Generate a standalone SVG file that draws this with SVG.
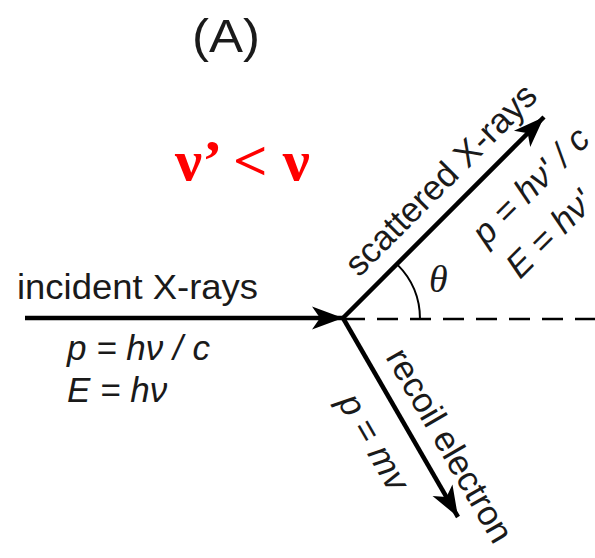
<svg xmlns="http://www.w3.org/2000/svg" width="595" height="558" viewBox="0 0 595 558">
<style>
.lbl{font-family:"Liberation Sans",Arial,sans-serif;font-size:35px;fill:#1a1a1a}
.it{font-style:italic}
.ray{stroke:#000;stroke-width:4.5;fill:none}
</style>
<defs>
<marker id="ah" markerUnits="userSpaceOnUse" markerWidth="40" markerHeight="30" refX="32" refY="12" orient="auto" viewBox="0 0 40 30">
<path d="M32,12 L1,0.5 L9,12 L1,23.5 Z" fill="#000"/>
</marker>
</defs>
<rect width="595" height="558" fill="#fff"/>
<g id="title"><text class="lbl" x="192" y="52" style="font-size:47px" textLength="68" lengthAdjust="spacingAndGlyphs">(A)</text></g>
<g id="relation"><text x="175" y="180" textLength="135" lengthAdjust="spacingAndGlyphs" style="font-family:'Liberation Serif','Times New Roman',serif;font-size:57px;font-weight:bold;fill:#ff0000">ν’ &lt; ν</text></g>
<g id="connectors">
<line class="ray" x1="25" y1="318" x2="343" y2="318" marker-end="url(#ah)"/>
<line class="ray" x1="343" y1="318" x2="544" y2="117" marker-end="url(#ah)"/>
<line class="ray" x1="343" y1="318" x2="458" y2="517" marker-end="url(#ah)"/>
<line x1="344" y1="319" x2="595" y2="319" stroke="#000" stroke-width="2.5" stroke-dasharray="21 12"/>
<path d="M420,319 A77,77 0 0 0 397.4,264.6" fill="none" stroke="#000" stroke-width="2"/>
</g>
<g id="incident">
<text class="lbl" x="17" y="299" textLength="241" lengthAdjust="spacingAndGlyphs">incident X-rays</text>
<text class="lbl it" x="67" y="360">p = hν / c</text>
<text class="lbl it" x="67" y="402">E = hν</text>
</g>
<g id="scattered">
<text class="lbl" transform="translate(359,278) rotate(-45)">scattered X-rays</text>
<text class="lbl it" transform="translate(486,247) rotate(-45)">p = hν' / c</text>
<text class="lbl it" transform="translate(520,280) rotate(-45)">E = hν'</text>
</g>
<g id="theta"><text x="429" y="292" style="font-family:'Liberation Serif','Times New Roman',serif;font-style:italic;font-size:38px;fill:#1a1a1a">θ</text></g>
<g id="recoil">
<text class="lbl" transform="translate(385,357) rotate(60)">recoil electron</text>
<text class="lbl it" transform="translate(337,402) rotate(60)">p = mv</text>
</g>
</svg>
